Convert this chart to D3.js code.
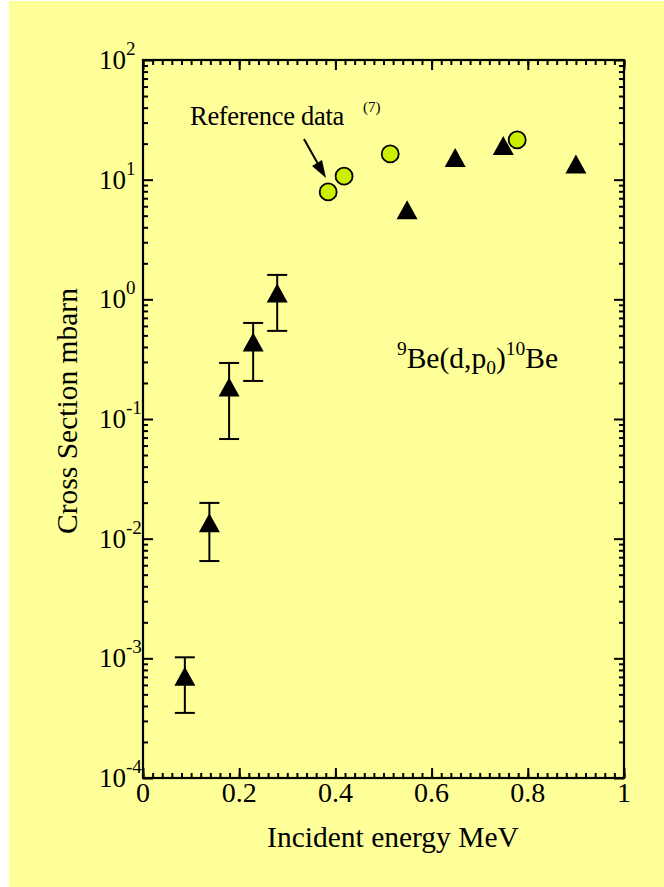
<!DOCTYPE html>
<html>
<head>
<meta charset="utf-8">
<script src="https://cdn.jsdelivr.net/npm/d3@7"></script>
<style>
  body { margin: 0; background: #ffffff; }
  text { font-family: "Liberation Serif", "Times New Roman", serif; fill: #000; }
</style>
</head>
<body>
<svg id="chart" width="664" height="887"></svg>
<script>

// Measured points (this work), triangles
var energy = [0.087, 0.138, 0.179, 0.229, 0.279, 0.549, 0.649, 0.749, 0.900];
var crossSection = [7.1e-4, 0.0136, 0.185, 0.44, 1.13, 5.6, 15.3, 19.3, 13.5];
var errLow = [3.5e-4, 0.0065, 0.068, 0.208, 0.545];
var errHigh = [1.02e-3, 0.0199, 0.294, 0.635, 1.6];

// Reference data (7), circles
var refEnergy = [0.385, 0.418, 0.514, 0.778];
var refCrossSection = [7.9, 10.7, 16.4, 21.5];

var xTicks = [0, 0.2, 0.4, 0.6, 0.8, 1];
var xTickLabels = ["0", "0.2", "0.4", "0.6", "0.8", "1"];
var yExponents = [-4, -3, -2, -1, 0, 1, 2];

function drawChart(){
    /* Draw the whole figure onto the svg */

    let svg = d3.select('#chart');
    let left = 143, right = 624, top = 60, bottom = 778;

    svg.append('rect')
       .attr('x', 9).attr('y', 1)
       .attr('width', 655).attr('height', 886)
       .attr('fill', '#ffff99');

    let x = d3.scaleLinear().domain([0, 1]).range([left, right]);
    let y = d3.scaleLog().domain([1e-4, 1e2]).range([bottom, top]);

    // minor ticks on x every 0.02, y 2..9 per decade
    let xMinor = d3.range(0, 51).map(function(i){ return i / 50; });
    let yMinor = [];
    for (let e of yExponents.slice(0, -1)){
        for (let m = 2; m <= 9; m++){
            yMinor.push(m * Math.pow(10, e));
        }
    }
    let yMajor = yExponents.map(function(e){ return Math.pow(10, e); });

    let axes = svg.append('g').attr('stroke', '#000').attr('stroke-width', 2);

    function ticks(g, axis, values, len){
        g.call(axis.tickValues(values).tickSize(len).tickFormat(''))
         .call(function(s){ s.select('.domain').remove(); })
         .selectAll('line').attr('stroke', '#000').attr('stroke-width', 2);
    }

    // bottom and top
    ticks(axes.append('g').attr('transform', 'translate(0,' + bottom + ')'), d3.axisTop(x), xMinor, 5);
    ticks(axes.append('g').attr('transform', 'translate(0,' + bottom + ')'), d3.axisTop(x), xTicks, 10);
    ticks(axes.append('g').attr('transform', 'translate(0,' + top + ')'), d3.axisBottom(x), xMinor, 5);
    ticks(axes.append('g').attr('transform', 'translate(0,' + top + ')'), d3.axisBottom(x), xTicks, 10);

    // left and right
    ticks(axes.append('g').attr('transform', 'translate(' + left + ',0)'), d3.axisRight(y), yMinor, 5);
    ticks(axes.append('g').attr('transform', 'translate(' + left + ',0)'), d3.axisRight(y), yMajor, 10);
    ticks(axes.append('g').attr('transform', 'translate(' + right + ',0)'), d3.axisLeft(y), yMinor, 5);
    ticks(axes.append('g').attr('transform', 'translate(' + right + ',0)'), d3.axisLeft(y), yMajor, 10);

    svg.append('rect')
       .attr('x', left).attr('y', top)
       .attr('width', right - left).attr('height', bottom - top)
       .attr('fill', 'none').attr('stroke', '#000').attr('stroke-width', 2.2);

    // x tick labels
    svg.selectAll('.xlab')
       .data(xTicks)
       .enter()
       .append('text')
       .attr('x', function(d){ return x(d); })
       .attr('y', 802)
       .attr('text-anchor', 'middle')
       .attr('font-size', 28)
       .text(function(d, i){ return xTickLabels[i]; });

    // y tick labels as 10^n
    let ylab = svg.selectAll('.ylab')
       .data(yExponents)
       .enter()
       .append('g');

    ylab.append('text')
        .attr('x', 126)
        .attr('y', function(d){ return y(Math.pow(10, d)) + 9; })
        .attr('text-anchor', 'end')
        .attr('font-size', 27)
        .text('10');

    ylab.append('text')
        .attr('x', 126)
        .attr('y', function(d){ return y(Math.pow(10, d)) - 5; })
        .attr('font-size', 19)
        .text(function(d){ return d < 0 ? '-' + (-d) : String(d); });

    // axis titles
    svg.append('text')
       .attr('x', 393).attr('y', 847)
       .attr('text-anchor', 'middle')
       .attr('font-size', 29.5)
       .text('Incident energy MeV');

    svg.append('text')
       .attr('transform', 'translate(77,' + 411 + ') rotate(-90)')
       .attr('text-anchor', 'middle')
       .attr('font-size', 29.5)
       .text('Cross Section mbarn');

    // error bars for the low energy points
    let bars = svg.append('g').attr('stroke', '#000').attr('stroke-width', 2);
    errLow.forEach(function(lo, i){
        let cx = x(energy[i]);
        bars.append('line')
            .attr('x1', cx).attr('x2', cx)
            .attr('y1', y(lo)).attr('y2', y(errHigh[i]));
        [lo, errHigh[i]].forEach(function(v){
            bars.append('line')
                .attr('x1', cx - 10).attr('x2', cx + 10)
                .attr('y1', y(v)).attr('y2', y(v));
        });
    });

    // triangles
    svg.selectAll('.tri')
       .data(energy)
       .enter()
       .append('path')
       .attr('d', 'M0,-9.5L10.5,9.5L-10.5,9.5Z')
       .attr('transform', function(d, i){
           return 'translate(' + x(d) + ',' + y(crossSection[i]) + ')';
       })
       .attr('fill', '#000');

    // reference circles
    svg.selectAll('.ref')
       .data(refEnergy)
       .enter()
       .append('circle')
       .attr('cx', function(d){ return x(d); })
       .attr('cy', function(d, i){ return y(refCrossSection[i]); })
       .attr('r', 8.5)
       .attr('fill', '#ccee00')
       .attr('stroke', '#000')
       .attr('stroke-width', 1.8);

    // annotation with arrow
    svg.append('text')
       .attr('x', 190).attr('y', 125)
       .attr('font-size', 26.5)
       .style('letter-spacing', '-0.3px')
       .text('Reference data');

    svg.append('text')
       .attr('x', 363).attr('y', 112)
       .attr('font-size', 15)
       .text('(7)');

    svg.append('line')
       .attr('x1', 304).attr('y1', 139)
       .attr('x2', 318).attr('y2', 164)
       .attr('stroke', '#000').attr('stroke-width', 2);

    svg.append('path')
       .attr('d', 'M326,178L312,166L322,160Z')
       .attr('fill', '#000');

    // reaction label
    let lab = svg.append('text')
       .attr('x', 558).attr('y', 368)
       .attr('text-anchor', 'end')
       .attr('font-size', 29.5);
    lab.append('tspan').attr('font-size', 19.5).attr('dy', -13).text('9');
    lab.append('tspan').attr('dy', 13).text('Be(d,p');
    lab.append('tspan').attr('font-size', 19.5).attr('dy', 6).text('0');
    lab.append('tspan').attr('dy', -6).text(')');
    lab.append('tspan').attr('font-size', 19.5).attr('dy', -13).text('10');
    lab.append('tspan').attr('dy', 13).text('Be');
}

drawChart();

</script>
</body>
</html>
